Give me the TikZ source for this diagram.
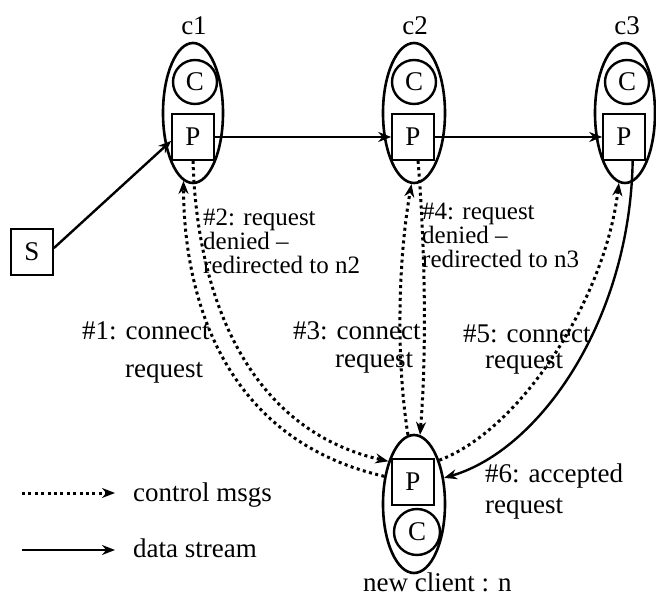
\documentclass[tikz,border=0pt]{standalone}
\usepackage{fontspec}
\setmainfont{Liberation Serif}
\usetikzlibrary{shapes.geometric,arrows.meta}
\begin{document}
\begin{tikzpicture}[x=1pt,y=-1pt,
  txt/.style={anchor=base west,inner sep=0pt,font=\fontsize{27}{27}\selectfont},
  small/.style={txt,font=\fontsize{25}{25}\selectfont},
  ctxt/.style={anchor=base,inner sep=0pt,font=\fontsize{27}{27}\selectfont},
  ell/.style={draw,ellipse,line width=2.6pt,inner sep=0pt,minimum width=60pt,minimum height=140pt},
  circ/.style={draw,circle,line width=2.4pt,inner sep=0pt,minimum size=44pt,font=\fontsize{27}{27}\selectfont},
  box/.style={draw,rectangle,line width=1.6pt,inner sep=0pt,minimum width=42pt,minimum height=46pt,font=\fontsize{27}{27}\selectfont},
  tip/.style={-{Stealth[length=13pt,width=10pt]}},
  data/.style={tip,line width=2.4pt},
  ctrl/.style={tip,line width=3pt,dash pattern=on 3pt off 3.4pt}
]
\useasboundingbox (0,0) rectangle (656,612);

% peer clients c1, c2, c3
\node[ell] (e1) at (193,113) {};
\node[circ] (C1) at (195,82) {C};
\node[box] (P1) at (193,137) {P};
\node[ctxt] (t1) at (194,35) {c1};

\node[ell,minimum width=62pt] (e2) at (414,113) {};
\node[circ] (C2) at (414,82) {C};
\node[box] (P2) at (413,137) {P};
\node[ctxt] (t2) at (415,35) {c2};

\node[ell] (e3) at (625,113) {};
\node[circ] (C3) at (627,82) {C};
\node[box] (P3) at (624,137) {P};
\node[ctxt] (t3) at (627,35) {c3};

% new client n
\node[ell,minimum width=62pt,minimum height=138pt] (en) at (414,504) {};
\node[box] (Pn) at (413,482) {P};
\node[circ,minimum size=46pt] (Cn) at (417,532) {C};
\node[txt] (tn) at (363,591) {new client : n};

% source
\node[box] (S) at (32,252) {S};

% data stream along the chain
\draw[data] (S.10) -- (P1.190);
\draw[data] (P1.east) -- (P2.west);
\draw[data] (P2.east) -- (P3.west);

% request exchange with c1
\draw[ctrl] (en.137) .. controls (225,440) and (184,300) .. (e1.262);
\draw[ctrl] (P1.south) .. controls (197,300) and (250,430) .. (en.121);

% request exchange with c2
\draw[ctrl] (en.95) .. controls (396,360) and (398,260) .. (e2.268);
\draw[ctrl] (P2.282) .. controls (426,260) and (426,360) .. (en.85);

% request exchange with c3
\draw[ctrl] (en.60) .. controls (520,430) and (605,300) .. (e3.265);
\draw[data] (P3.290) .. controls (630,320) and (540,450) .. (en.41);

% message labels
\node[small] (m2a) at (203,226) {\#2: request};
\node[small] (m2b) at (203,250) {denied –};
\node[small] (m2c) at (203,274) {redirected to n2};

\node[small] (m4a) at (422,220) {\#4: request};
\node[small] (m4b) at (422,244) {denied –};
\node[small] (m4c) at (422,268) {redirected to n3};

\node[txt] (m1a) at (82,340) {\#1: connect};
\node[txt] (m1b) at (125,377) {request};

\node[txt] (m3a) at (293,340) {\#3: connect};
\node[txt] (m3b) at (335,367) {request};

\node[txt] (m5a) at (463,342) {\#5: connect};
\node[txt] (m5b) at (485,368) {request};

\node[txt] (m6a) at (485,482) {\#6: accepted};
\node[txt] (m6b) at (485,513) {request};

% legend
\coordinate (la) at (22,493);
\coordinate (lb) at (115,493);
\coordinate (lc) at (22,550);
\coordinate (ld) at (115,550);
\draw[ctrl] (la) -- (lb);
\draw[data] (lc) -- (ld);
\node[txt] (lg1) at (133,501) {control msgs};
\node[txt] (lg2) at (133,557) {data stream};
\end{tikzpicture}
\end{document}
